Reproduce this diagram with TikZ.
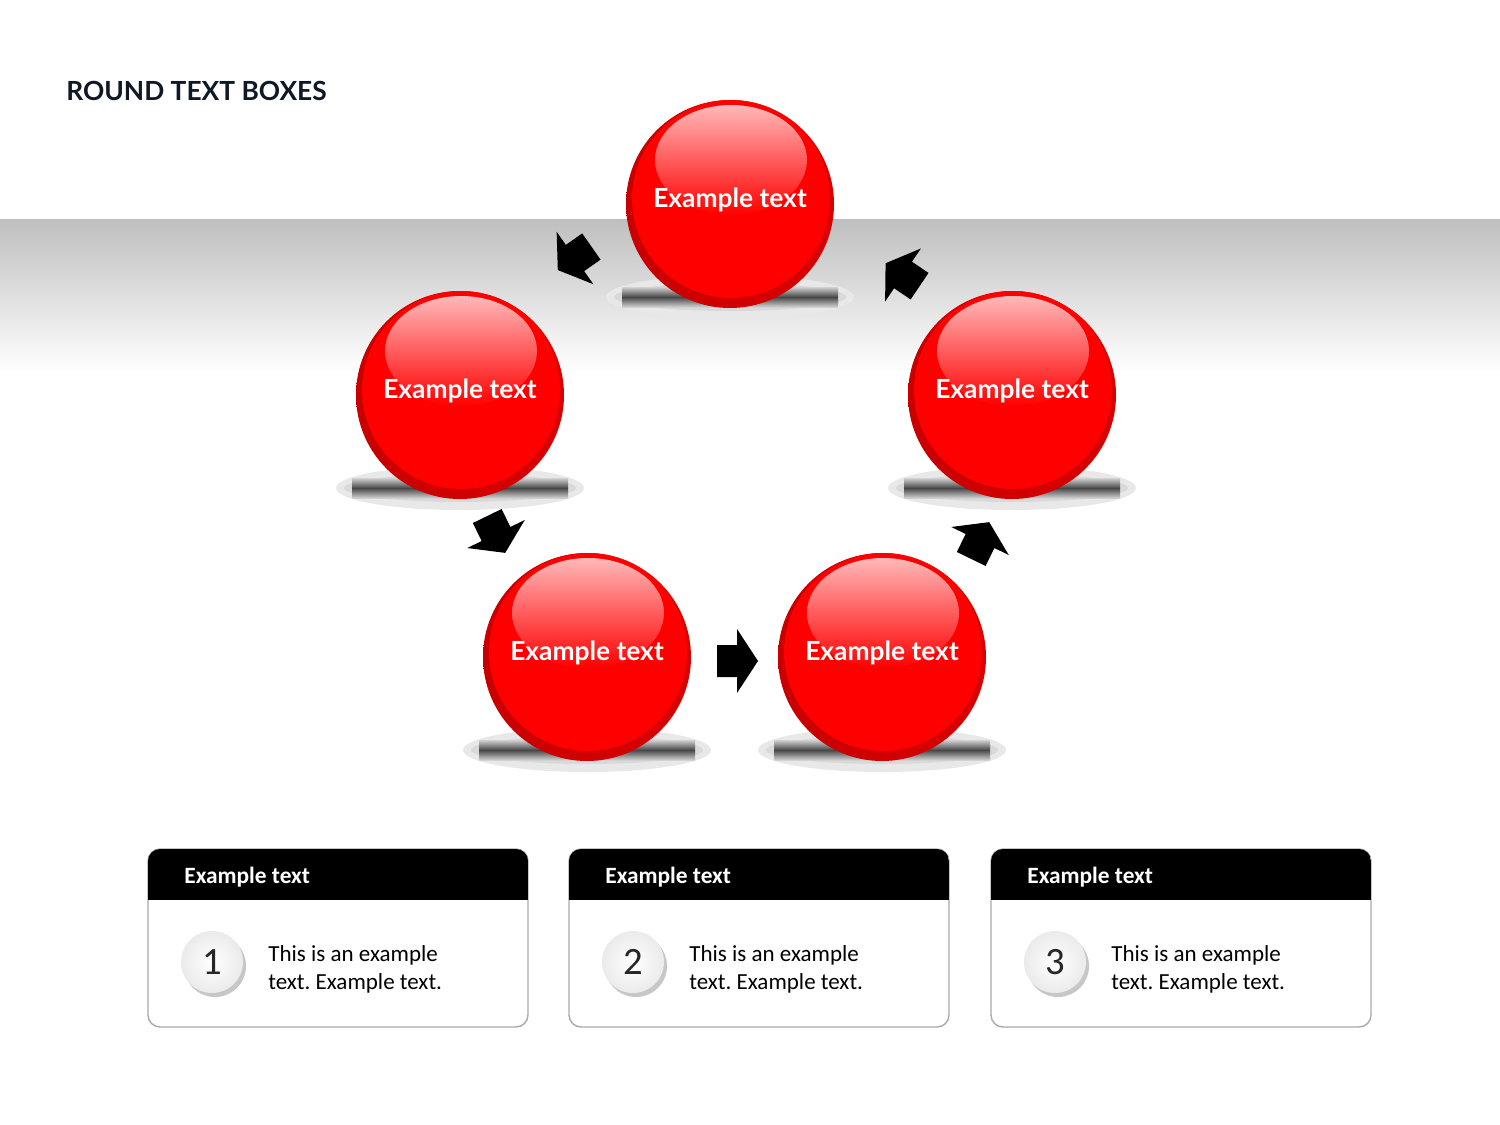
\documentclass[tikz,border=0pt]{standalone}
\usepackage{fontspec}
\setmainfont{Carlito}
\newfontfamily\latofont{Lato}

\definecolor{ballred}{RGB}{255,0,0}
\definecolor{rimred}{RGB}{200,0,0}
\definecolor{glow}{RGB}{255,184,184}
\definecolor{titleblue}{RGB}{16,24,38}
\definecolor{cardgray}{RGB}{170,170,170}

\newcommand{\DrawBall}[3]{
    \begin{scope}[shift={(#2,#3)}]
        \fill[black!9] (0,93) ellipse (124 and 22);
        \fill[black!15] (0,93) ellipse (116 and 14);
        \shade[top color=black!18, bottom color=black!18, middle color=black!72] (-108,83) rectangle (108,103);
        \shade[left color=rimred, right color=rimred!70!ballred] (0,0) circle (104);
        \fill[ballred] (1,-5) circle (99);
        \shade[top color=glow, bottom color=ballred] (1,-44) ellipse (76 and 55);
        \node[ball] (#1) at (0,0) {Example text};
    \end{scope}
}

\newcommand{\DrawArrow}[3]{
    \fill[black, shift={(#1,#2)}, rotate=#3]
        (-20,-16) -- (0,-16) -- (0,-32) -- (21,0) -- (0,32) -- (0,16) -- (-20,16) -- cycle;
}

\newcommand{\DrawCard}[2]{
    \begin{scope}[shift={(#1,0)}]
        \filldraw[fill=white, draw=cardgray, line width=0.8pt, rounded corners=0.24cm] (148,849) rectangle (528,1027);
        \begin{scope}
            \clip[rounded corners=0.24cm] (148,849) rectangle (528,1027);
            \fill[black] (148,849) rectangle (528,900);
        \end{scope}
        \node[cardhead] (head#2) at (184,877) {Example text};
        \fill[black!22] (215,966) circle (31);
        \shade[inner color=white, outer color=black!8] (212,962) circle (31);
        \node[cardnum] (num#2) at (212,962) {#2};
        \node[cardtext] (text#2) at (268,969) {This is an example\\text. Example text.};
    \end{scope}
}

\begin{document}
\frenchspacing
\begin{tikzpicture}[
  x=0.02cm, y=-0.02cm,
  ball/.style={circle, minimum size=4.16cm, inner sep=0pt, text=white,
    font=\latofont\bfseries\fontsize{15}{18}\selectfont, text depth=7pt},
  heading/.style={anchor=west, inner sep=0pt, text=titleblue, font=\latofont\bfseries\fontsize{15}{18}\selectfont},
  cardhead/.style={anchor=west, inner sep=0pt, text=white, font=\bfseries\fontsize{13.3}{16}\selectfont},
  cardnum/.style={inner sep=0pt, text=black!85, font=\fontsize{22}{24}\selectfont},
  cardtext/.style={anchor=west, inner sep=0pt, align=left, text=black, font=\fontsize{13.1}{15.9}\selectfont}
  ]
  \useasboundingbox (0,0) rectangle (1500,1125);
  \fill[white] (0,0) rectangle (1500,1125);
  % grey band behind the top of the ring
  \shade[top color=black!25, bottom color=white] (0,220) rectangle (1500,372);

  \node[heading] (title) at (66,91) {ROUND TEXT BOXES};

  \DrawBall{topball}{730}{204}
  \DrawBall{leftball}{460}{395}
  \DrawBall{rightball}{1012}{395}
  \DrawBall{lowleft}{587}{657}
  \DrawBall{lowright}{882}{657}

  \DrawArrow{575}{258}{215}
  \DrawArrow{496}{534}{-64}
  \DrawArrow{737}{661}{0}
  \DrawArrow{980}{541}{64}
  \DrawArrow{903}{275}{146}

  \DrawCard{0}{1}
  \DrawCard{421}{2}
  \DrawCard{843}{3}
\end{tikzpicture}
\end{document}
